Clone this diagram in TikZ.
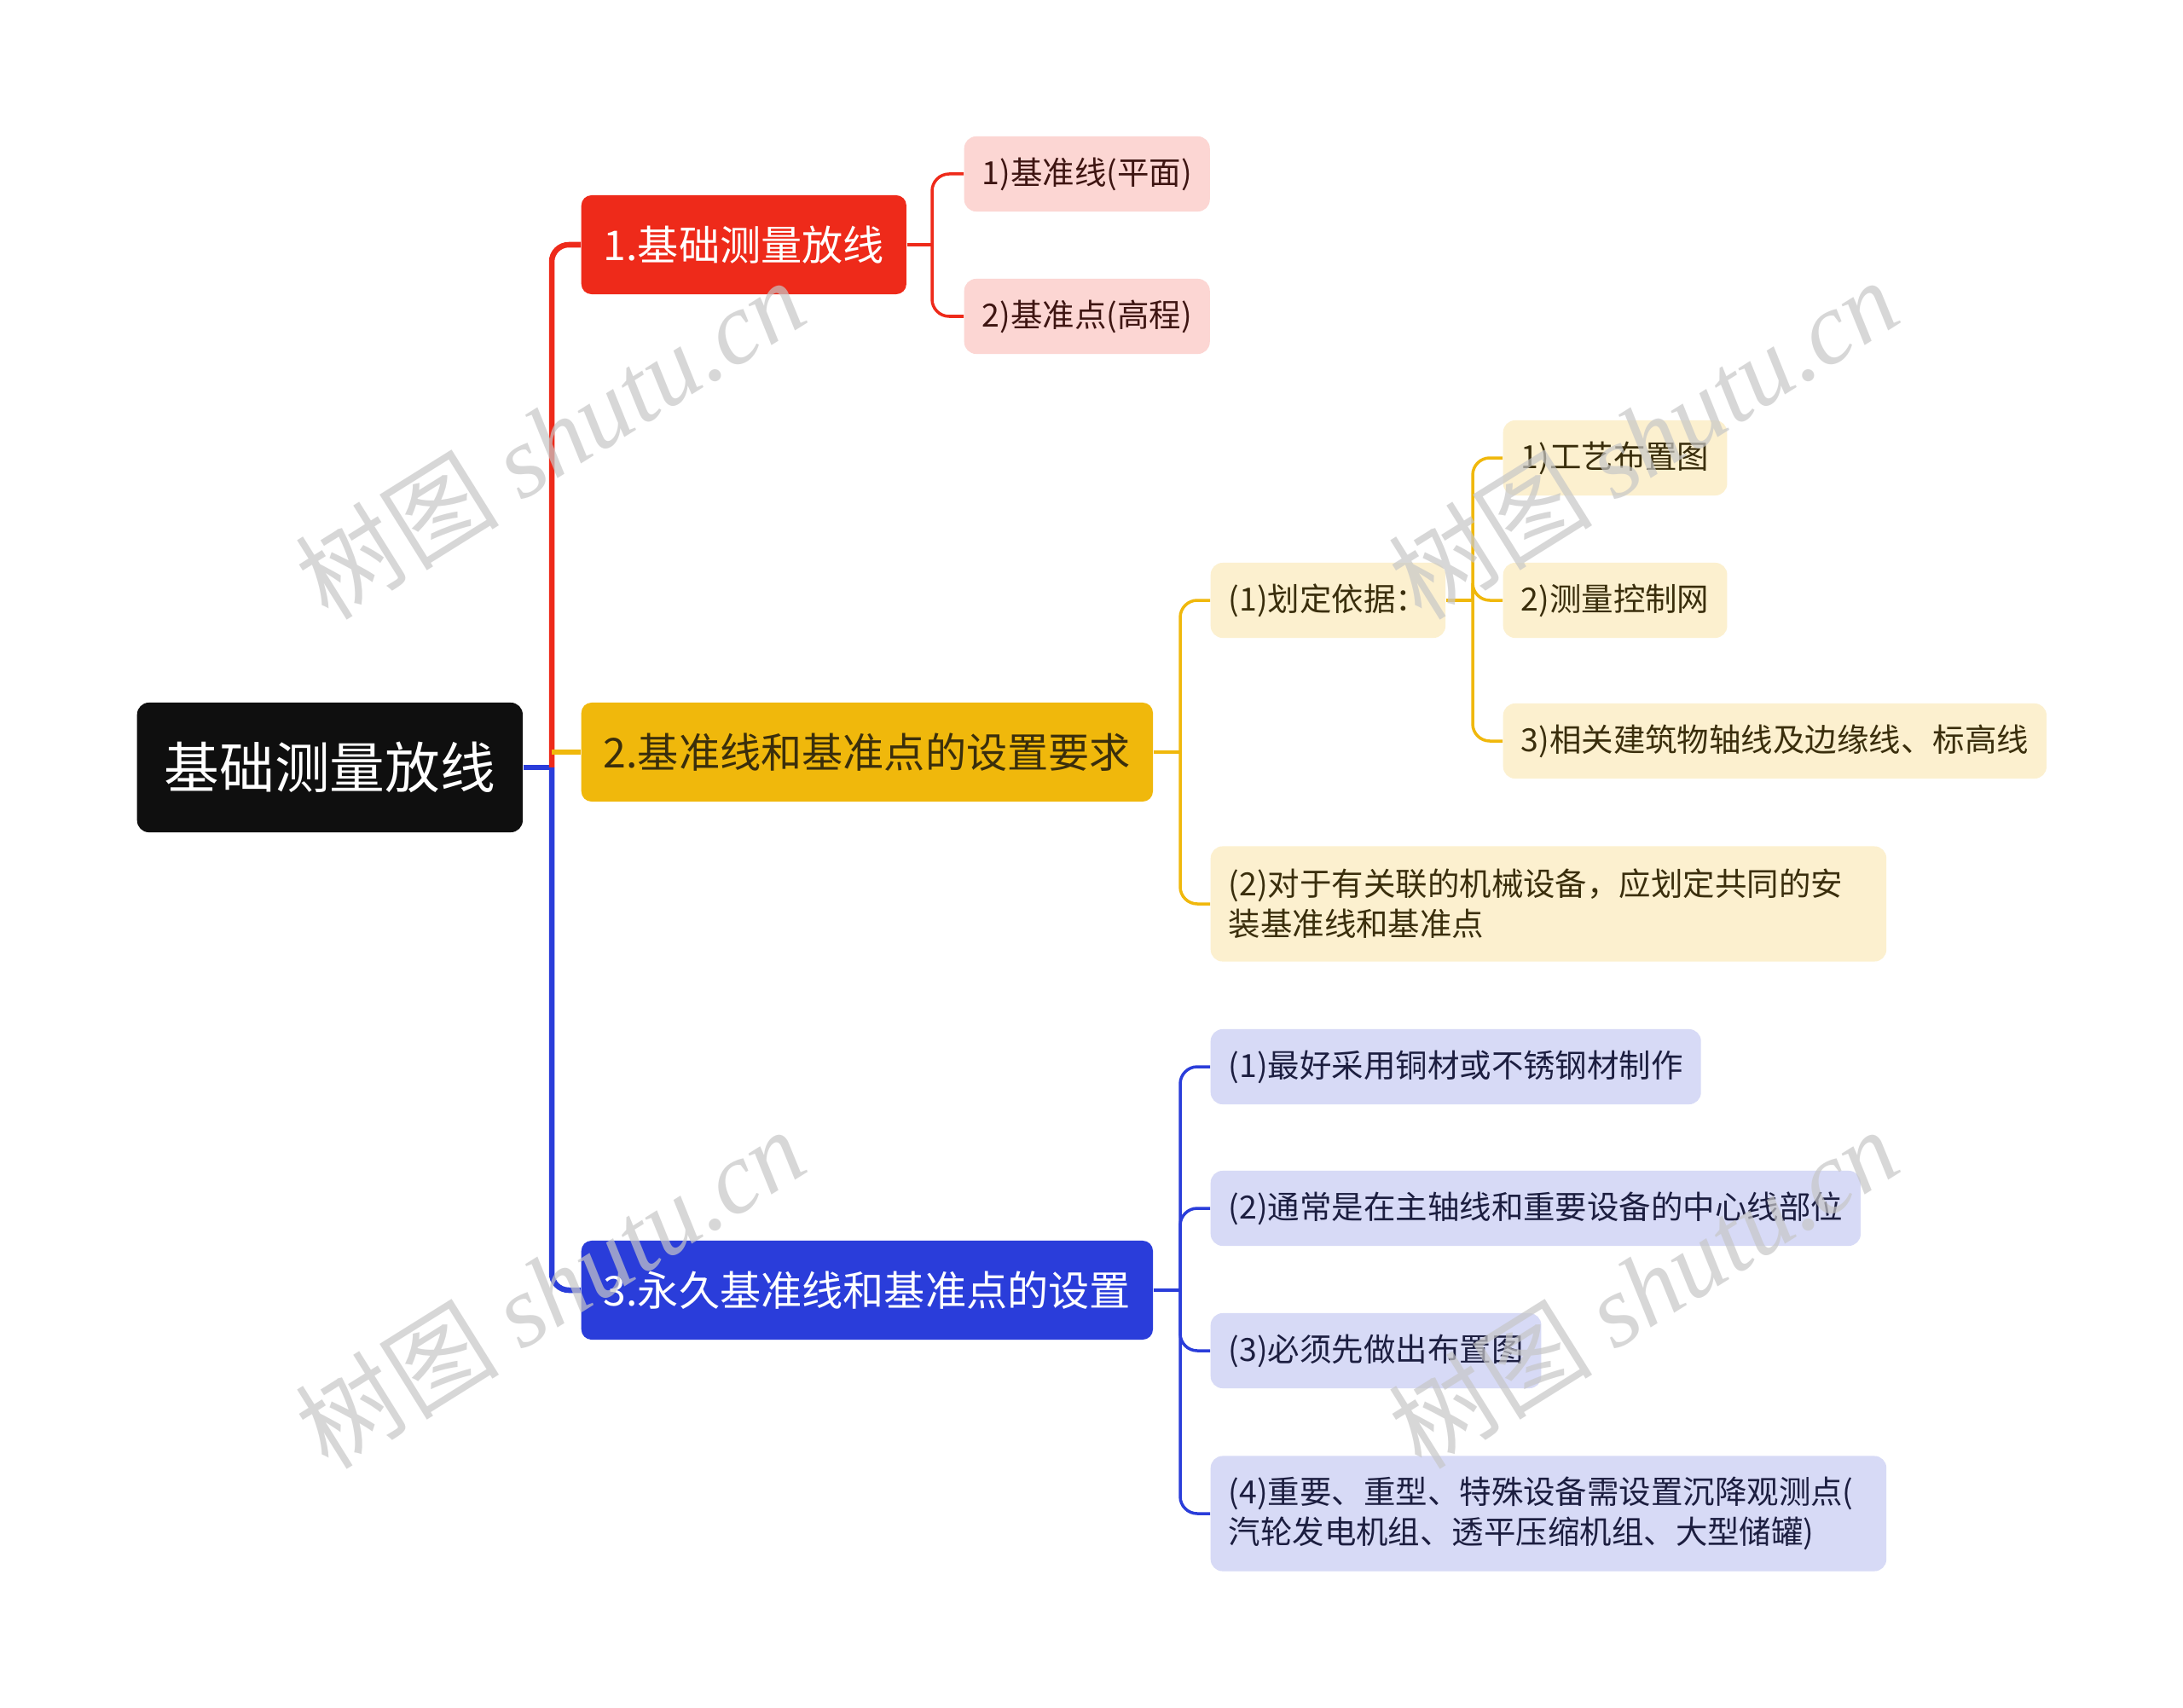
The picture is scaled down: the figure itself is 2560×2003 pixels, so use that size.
\documentclass[tikz,border=0pt]{standalone}
\usepackage{fontspec}
\setmainfont{Noto Sans CJK SC}
\newfontfamily\wmfont{Liberation Serif}

\definecolor{rootblack}{HTML}{0F0F0F}
\definecolor{redmain}{HTML}{EE2A1A}
\definecolor{redleaf}{HTML}{FCD6D3}
\definecolor{redtext}{HTML}{3E1512}
\definecolor{yellowmain}{HTML}{F0B80C}
\definecolor{yellowleaf}{HTML}{FCF0CF}
\definecolor{yellowtext}{HTML}{3A2E0C}
\definecolor{bluemain}{HTML}{2A3DDA}
\definecolor{blueleaf}{HTML}{D7DAF6}
\definecolor{bluetext}{HTML}{1C1E40}

\begin{document}
\begin{tikzpicture}[x=0.01cm, y=-0.01cm,
    rootbox/.style={fill=rootblack, text=white, rounded corners=0.14cm, inner xsep=0.32cm,
        minimum height=1.52cm, anchor=west, font=\fontsize{18.4}{22}\selectfont},
    mainbox/.style={rounded corners=0.12cm, inner xsep=0.26cm, minimum height=1.16cm,
        anchor=west, font=\fontsize{13.7}{16}\selectfont},
    leafbox/.style={rounded corners=0.14cm, inner xsep=0.21cm, minimum height=0.88cm,
        anchor=west, align=left, font=\fontsize{10.65}{13.4}\selectfont},
    leaftwo/.style={leafbox, minimum height=1.35cm, text width=7.5cm},
    mainline/.style={line width=0.065cm},
    subline/.style={line width=0.035cm},
    wmark/.style={text=black!22, opacity=0.7, rotate=32, font=\fontsize{34}{38}\selectfont}
]
    % Page
    \fill[white] (0,0) rectangle (2560,2003);
    \useasboundingbox (0,0) rectangle (2560,2003);

    % Draw the root and the three main branches
    \node[rootbox] (root) at (160,900) {基础测量放线};
    \node[mainbox, fill=redmain, text=white] (base) at (681,287) {1.基础测量放线};
    \node[mainbox, fill=yellowmain, text=yellowtext] (req) at (681,882) {2.基准线和基准点的设置要求};
    \node[mainbox, fill=bluemain, text=white] (perm) at (681,1513) {3.永久基准线和基准点的设置};

    % Leaves of branch 1
    \node[leafbox, fill=redleaf, text=redtext] (plane) at (1130,204) {1)基准线(平面)};
    \node[leafbox, fill=redleaf, text=redtext] (height) at (1130,371) {2)基准点(高程)};

    % Leaves of branch 2
    \node[leafbox, fill=yellowleaf, text=yellowtext] (basis) at (1419,704) {(1)划定依据：};
    \node[leaftwo, fill=yellowleaf, text=yellowtext] (machine) at (1419,1060)
        {(2)对于有关联的机械设备，应划定共同的安\\装基准线和基准点};
    \node[leafbox, fill=yellowleaf, text=yellowtext] (layout) at (1762,537) {1)工艺布置图};
    \node[leafbox, fill=yellowleaf, text=yellowtext] (net) at (1762,704) {2)测量控制网};
    \node[leafbox, fill=yellowleaf, text=yellowtext] (axis) at (1762,869) {3)相关建筑物轴线及边缘线、标高线};

    % Leaves of branch 3
    \node[leafbox, fill=blueleaf, text=bluetext] (copper) at (1419,1251) {(1)最好采用铜材或不锈钢材制作};
    \node[leafbox, fill=blueleaf, text=bluetext] (centre) at (1419,1417) {(2)通常是在主轴线和重要设备的中心线部位};
    \node[leafbox, fill=blueleaf, text=bluetext] (plan) at (1419,1584) {(3)必须先做出布置图};
    \node[leaftwo, fill=blueleaf, text=bluetext] (settle) at (1419,1775)
        {(4)重要、重型、特殊设备需设置沉降观测点(\\汽轮发电机组、透平压缩机组、大型储罐)};

    % Junction points
    \coordinate (trunk) at (647,900);
    \coordinate (jbase) at (1093,287);
    \coordinate (jreq) at (1384,882);
    \coordinate (jbasis) at (1727,704);
    \coordinate (jperm) at (1384,1513);

    % Draw the main connectors
    \draw[mainline, bluemain] (root.east) -- (trunk);
    \draw[mainline, redmain, rounded corners=0.2cm] (trunk) |- (base.west);
    \draw[mainline, bluemain, rounded corners=0.2cm] (trunk) |- (perm.west);
    \draw[mainline, yellowmain] (trunk |- req.west) -- (req.west);

    % Draw the leaf connectors
    \draw[subline, redmain] (base.east) -- (jbase);
    \foreach \leaf in {plane,height}
        \draw[subline, redmain, rounded corners=0.2cm] (jbase) |- (\leaf.west);
    \draw[subline, yellowmain] (req.east) -- (jreq);
    \foreach \leaf in {basis,machine}
        \draw[subline, yellowmain, rounded corners=0.2cm] (jreq) |- (\leaf.west);
    \draw[subline, yellowmain] (basis.east) -- (jbasis);
    \foreach \leaf in {layout,net,axis}
        \draw[subline, yellowmain, rounded corners=0.2cm] (jbasis) |- (\leaf.west);
    \draw[subline, bluemain] (perm.east) -- (jperm);
    \foreach \leaf in {copper,centre,plan,settle}
        \draw[subline, bluemain, rounded corners=0.2cm] (jperm) |- (\leaf.west);

    % Watermarks
    \node[wmark] (wm1) at (645,514) {树图 {\wmfont\itshape shutu.cn}};
    \node[wmark] (wm2) at (1927,514) {树图 {\wmfont\itshape shutu.cn}};
    \node[wmark] (wm3) at (645,1510) {树图 {\wmfont\itshape shutu.cn}};
    \node[wmark] (wm4) at (1927,1510) {树图 {\wmfont\itshape shutu.cn}};
\end{tikzpicture}
\end{document}
